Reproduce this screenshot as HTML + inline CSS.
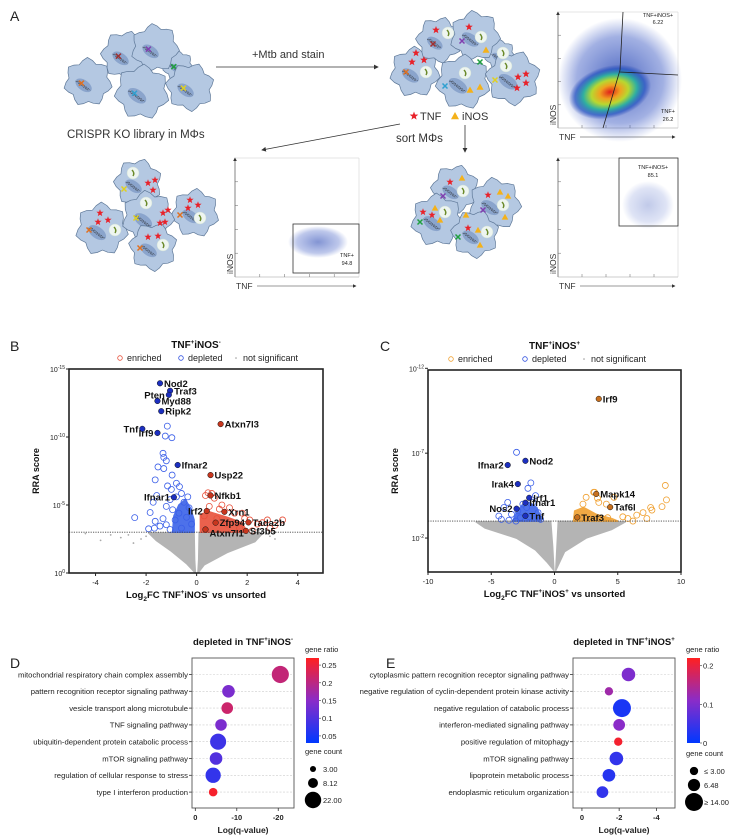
<!DOCTYPE html>
<html><head><meta charset="utf-8"><style>
html,body{margin:0;padding:0;background:#fff}
svg{display:block;font-family:"Liberation Sans",Arial,sans-serif}
</style></head><body>
<svg id="fig" width="747" height="840" viewBox="0 0 747 840" xmlns="http://www.w3.org/2000/svg">
<defs>
<radialGradient id="dens" cx="50%" cy="50%" r="50%">
<stop offset="0" stop-color="#e0201a"/><stop offset="0.25" stop-color="#f0a020"/><stop offset="0.45" stop-color="#b8d830"/><stop offset="0.65" stop-color="#30b0a0"/><stop offset="0.85" stop-color="#2050c0" stop-opacity="0.7"/><stop offset="1" stop-color="#2040b0" stop-opacity="0"/>
</radialGradient>
<radialGradient id="blueCloud" cx="50%" cy="50%" r="50%">
<stop offset="0" stop-color="#2040b0" stop-opacity="0.8"/><stop offset="0.7" stop-color="#3050c0" stop-opacity="0.45"/><stop offset="1" stop-color="#3050c0" stop-opacity="0"/>
</radialGradient>
<linearGradient id="cbar" x1="0" y1="1" x2="0" y2="0">
<stop offset="0" stop-color="#0038ff"/><stop offset="0.5" stop-color="#8a2cc8"/><stop offset="1" stop-color="#ff2020"/>
</linearGradient>
<marker id="arr" markerWidth="6" markerHeight="6" refX="5" refY="3" orient="auto"><path d="M0,0 L6,3 L0,6 z" fill="#333"/></marker>
</defs>
<g id="panelA"></g>
<g id="panelB"></g>
<g id="panelC"></g>
<g id="panelD"></g>
<g id="panelE"></g>
</svg>
<script>
// ---------- Panel B data ----------
const bLabelNames = ["Nod2","Traf3","Pten","Myd88","Ripk2","Tnf","Irf9","Ifnar2","Ifnar1"];
const bLabelX = [-1.45,-1.05,-1.1,-1.55,-1.4,-2.15,-1.55,-0.75,-0.9];
const bLabelY = [13.95,13.4,13.1,12.65,11.9,10.6,10.3,7.94,5.57];
const bLabelSide = ["r","r","l","r","r","l","l","r","l"];
const bEnrNames = ["Atxn7l3","Usp22","Nfkb1","Irf2","Xrn1","Zfp94","Tada2b","Sf3b5","Atxn7l1"];
const bEnrX = [0.95,0.55,0.55,0.4,1.1,0.75,2.05,1.95,0.35];
const bEnrY = [10.95,7.2,5.7,4.56,4.5,3.7,3.72,3.1,3.2];
const bEnrSide = ["r","r","r","l","r","r","r","r","rb"];
const bDepX = [-1.16,-1.24,-0.98,-1.33,-1.3,-1.2,-1.53,-1.3,-0.97,-1.64,-0.8,-0.68,-1.15,-1.0,-1.58,-1.72,-1.84,-2.45,-1.64,-1.9,-1.67,-1.45,-1.33,-1.2,-1.05,-0.8,-0.6,-0.95,-1.2,-1.05,-0.5,-0.3,-0.7,-0.4,-0.2,-0.6,-0.85,-0.35];
const bDepY = [10.8,10.07,9.95,8.8,8.5,8.25,7.8,7.68,7.2,6.85,6.6,6.35,6.4,6.15,5.7,5.2,4.45,4.07,3.8,3.25,3.3,3.45,4.0,4.9,5.4,5.6,5.85,4.65,3.55,3.2,5.2,4.8,4.4,4.1,3.6,3.3,3.9,5.6];
const bDepBlobX = [-0.95,-0.9,-0.7,-0.45,-0.25,-0.1,-0.1];
const bDepBlobY = [3.0,4.2,5.0,5.4,4.8,3.9,3.0];
const bEnrPtX = [0.45,0.6,0.7,0.35,0.9,1.0,1.3,1.5,1.8,2.1,2.4,2.6,2.9,3.4,3.1,2.2,1.7,1.2,0.5,1.9,2.8,0.3,0.8];
const bEnrPtY = [5.9,5.85,5.5,5.7,4.7,5.0,4.8,4.4,4.4,3.9,3.6,3.7,3.3,3.9,3.5,3.1,3.3,3.6,4.9,4.0,3.9,4.2,4.0];
const bEnrBlobX = [0.15,0.15,0.5,1.2,1.8,2.0];
const bEnrBlobY = [3.0,4.3,4.5,4.1,3.7,3.0];
const bGreyLX = [-0.05,-0.4,-1.0,-1.6,-1.9,-0.1,-0.08];
const bGreyLY = [0,0.7,1.6,2.4,2.95,2.95,1];
const bGreyRX = [0.05,0.3,1.2,2.3,2.6,0.1,0.08];
const bGreyRY = [0,0.6,1.5,2.3,2.9,2.95,1];
const bGreyPtX = [-4.4,-3.4,-3.0,-2.7,-2.2,-3.8,-2.5,-2.0,2.9,3.1];
const bGreyPtY = [2.9,2.8,2.6,2.8,2.5,2.4,2.2,2.7,2.7,2.5];
const bXTicks = [-4,-2,0,2,4];
const bYTicks = [15,10,5,0];
const bThreshold = 3;

// ---------- Panel C data ----------
const cDepNames = ["Nod2","Ifnar2","Irak4","Irf1","Ifnar1","Nos2","Tnf"];
const cDepLX = [-2.3,-3.7,-2.9,-2.0,-2.3,-3.0,-2.3];
const cDepLY = [6.55,6.3,5.18,4.37,4.08,3.73,3.31];
const cDepSide = ["r","l","l","r","r","l","r"];
const cEnrNames = ["Irf9","Mapk14","Taf6l","Traf3"];
const cEnrLX = [3.5,3.3,4.4,1.8];
const cEnrLY = [10.2,4.6,3.82,3.22];
const cDepX = [-3.0,-1.87,-2.1,-1.5,-3.7,-4.0,-4.4,-3.4,-2.9,-2.5,-2.2,-1.7,-3.05,-3.6,-2.0,-1.3,-2.7,-1.1,-4.2];
const cDepY = [7.05,5.25,4.93,4.5,4.1,3.8,3.3,3.4,3.6,4.0,3.8,4.1,3.0,3.05,3.25,3.5,3.2,3.1,3.1];
const cDepBlobX = [-3.3,-3.0,-2.5,-2.0,-1.4,-1.0,-1.1];
const cDepBlobY = [3.0,3.5,4.0,4.1,3.8,3.1,3.0];
const cEnrX = [3.17,4.7,8.76,8.85,8.5,7.6,7.7,7.0,6.5,5.8,6.2,5.4,4.1,3.5,2.5,2.25,7.3,4.2,3.4,3.1];
const cEnrY = [4.7,4.4,5.1,4.25,3.85,3.8,3.65,3.5,3.35,3.15,3.0,3.25,4.0,4.1,4.4,4.0,3.15,3.2,4.35,4.7];
const cEnrBlobX = [1.5,1.6,2.3,3.3,4.5,5.0];
const cEnrBlobY = [3.0,3.6,3.8,3.4,3.15,3.0];
const cGreyLX = [-0.05,-0.6,-1.5,-3,-5.5,-6.2,-3,-0.3,-0.15];
const cGreyLY = [0.1,0.6,1.3,2,2.6,2.95,2.98,2.98,1.5];
const cGreyRX = [0.1,0.8,2.5,4.5,5.6,2,0.3,0.2];
const cGreyRY = [0.1,1.2,2.0,2.5,2.95,2.98,2.98,1.5];
const cXTicks = [-10,-5,0,5,10];
const cYTicks = [12,7,2];
const cThreshold = 3;

// ---------- Panel D data ----------
const dTerms = ["mitochondrial respiratory chain complex assembly","pattern recognition receptor signaling pathway","vesicle transport along microtubule","TNF signaling pathway","ubiquitin-dependent protein catabolic process","mTOR signaling pathway","regulation of cellular response to stress","type I interferon production"];
const dLogQ = [-20.5,-8,-7.7,-6.2,-5.5,-5,-4.3,-4.3];
const dCount = [24,13,11,11,21,13,19,6];
const dRatio = [0.2,0.12,0.21,0.12,0.06,0.08,0.05,0.26];
const dXTicks = [0,-10,-20];
const dRatioTicks = [0.25,0.2,0.15,0.1,0.05];
const dCountLegend = [3.00,8.12,22.00];

// ---------- Panel E data ----------
const eTerms = ["cytoplasmic pattern recognition receptor signaling pathway","negative regulation of cyclin-dependent protein kinase activity","negative regulation of catabolic process","interferon-mediated signaling pathway","positive regulation of mitophagy","mTOR signaling pathway","lipoprotein metabolic process","endoplasmic reticulum organization"];
const eLogQ = [-2.5,-1.45,-2.15,-2.0,-1.95,-1.85,-1.45,-1.1];
const eCount = [8,3,14,6,3,8,7,6];
const eRatio = [0.1,0.13,0.02,0.11,0.21,0.04,0.03,0.04];
const eXTicks = [0,-2,-4];
const eRatioTicks = [0.2,0.1,0];
const eCountLegend = ["≤ 3.00","6.48","≥ 14.00"];
const eCountLegendVal = [3,6.48,14];

const NS="http://www.w3.org/2000/svg";
function mk(parent,tag,attrs,text){const e=document.createElementNS(NS,tag);for(const k in attrs)e.setAttribute(k,attrs[k]);if(text!==undefined)e.textContent=text;parent.appendChild(e);return e;}

// ================= PANEL A =================
(function(){
const g=document.getElementById('panelA');
let t=mk(g,'text',{x:10,y:21,'font-size':14,fill:'#222'},'A');


function cell(par,cx,cy,r,rot){
  let d='';const n=7;
  for(let i=0;i<=n*4;i++){const a=rot+i*Math.PI*2/(n*4);const rr=r*(1+0.12*Math.cos(i*Math.PI/2));d+=(i?'L':'M')+(cx+rr*Math.cos(a)).toFixed(1)+','+(cy+rr*Math.sin(a)).toFixed(1);}
  const p=mk(par,'path',{d:d+'Z',fill:'#b4c8e2',stroke:'#5e7898','stroke-width':0.7,'stroke-linejoin':'round'});
  
  
  mk(par,'ellipse',{cx:cx-r*0.2,cy:cy+r*0.15,rx:r*0.42,ry:r*0.24,fill:'#8aa4cc',transform:`rotate(35 ${cx-r*0.2} ${cy+r*0.15})`});
  for(let k=-1;k<=1;k++)mk(par,'line',{x1:cx-r*0.5+k*1.5,y1:cy-r*0.05,x2:cx+r*0.05+k*1.5,y2:cy+r*0.38,stroke:'#222','stroke-width':0.5,'stroke-dasharray':'2 1'});
}
function xmark(par,x,y,c){mk(par,'path',{d:`M${x-2.5},${y-2.5}L${x+2.5},${y+2.5}M${x+2.5},${y-2.5}L${x-2.5},${y+2.5}`,stroke:c,'stroke-width':1.5});}
function bact(par,x,y){mk(par,'circle',{cx:x,cy:y,r:6,fill:'#eef5f0',stroke:'#cfe0d8','stroke-width':0.5});mk(par,'path',{d:`M${x-1},${y-3}Q${x+2},${y} ${x},${y+3}`,stroke:'#6b8a2a','stroke-width':1.5,fill:'none'});}
function star(par,x,y,s){let d='';for(let i=0;i<10;i++){const a=-Math.PI/2+i*Math.PI/5;const r=i%2?s*0.42:s;d+=(i?'L':'M')+(x+r*Math.cos(a)).toFixed(1)+','+(y+r*Math.sin(a)).toFixed(1);}const p=mk(par,'path',{d:d+'Z',fill:'#e8222a'});}
function tri(par,x,y,s){const p=mk(par,'path',{d:`M${x},${y-s}L${x+s},${y+s*0.8}L${x-s},${y+s*0.8}Z`,fill:'#f4b11a'});}
// cluster 1
const c1=mk(g,'g',{});
[[88,82,22,0.2,'#e07020'],[125,55,22,0.5,'#a03030'],[178,66,14,0.2,'#20a040'],[155,48,22,0.1,'#8040b0'],[142,92,25,0.3,'#30a0d0'],[190,87,22,0.6,'#e0d020']].forEach(c=>{cell(c1,c[0],c[1],c[2],c[3]);xmark(c1,c[0]-c[2]*0.3,c[1]+c[2]*0.05,c[4]);});
t=mk(g,'text',{x:67,y:138,'font-size':11.5,fill:'#333'},'CRISPR KO library in MΦs');

mk(g,'line',{x1:216,y1:67,x2:378,y2:67,stroke:'#333','stroke-width':0.8,'marker-end':'url(#arr)'});
t=mk(g,'text',{x:252,y:58,'font-size':11,fill:'#333'},'+Mtb and stain');

// cluster 2
const c2=mk(g,'g',{});
[[415,72,23,0.2],[439,40,21,0.5],[500,55,14,0.2],[475,36,23,0.1],[463,82,25,0.3],[513,78,25,0.6]].forEach(c=>{cell(c2,c[0],c[1],c[2],c[3]);});
[[448,33],[481,37],[426,72],[465,73],[506,66],[503,53]].forEach(b=>bact(c2,b[0],b[1]));
[[436,30],[469,27],[416,53],[412,62],[424,60],[518,77],[526,74],[517,88],[526,83]].forEach(s=>star(c2,s[0],s[1],4));
[[486,50],[470,90],[480,87]].forEach(s=>tri(c2,s[0],s[1],3.5));
xmark(c2,406,72,'#e07020');xmark(c2,433,44,'#a03030');xmark(c2,462,41,'#8040b0');xmark(c2,480,62,'#20a040');xmark(c2,495,80,'#e0d020');xmark(c2,445,86,'#30a0d0');
star(g,414,116,4.5);
t=mk(g,'text',{x:420,y:120,'font-size':11,fill:'#333'},'TNF');
tri(g,455,116,4);
t=mk(g,'text',{x:462,y:120,'font-size':11,fill:'#333'},'iNOS');
t=mk(g,'text',{x:396,y:142,'font-size':11.5,fill:'#333'},'sort MΦs');
mk(g,'line',{x1:400,y1:124,x2:262,y2:150,stroke:'#333','stroke-width':0.8,'marker-end':'url(#arr)'});
mk(g,'line',{x1:465,y1:125,x2:465,y2:152,stroke:'#333','stroke-width':0.8,'marker-end':'url(#arr)'});
// bottom left cells
const c3=mk(g,'g',{});
[[102,229,24,0.2],[138,183,22,0.5],[195,213,22,0.3],[148,217,24,0.1],[153,247,22,0.6]].forEach(c=>{cell(c3,c[0],c[1],c[2],c[3]);});
[[133,173],[146,203],[115,230],[200,218],[163,245]].forEach(b=>bact(c3,b[0],b[1]));
[[148,183],[155,180],[153,190],[100,213],[98,222],[108,220],[163,213],[168,210],[160,223],[165,222],[190,200],[198,205],[188,208],[148,237],[158,236]].forEach(s=>star(c3,s[0],s[1],3.8));
xmark(c3,124,189,'#e0d020');xmark(c3,136,218,'#e0d020');xmark(c3,89,230,'#e07020');xmark(c3,140,248,'#e07020');xmark(c3,180,215,'#e07020');
// bottom middle cells
const c4=mk(g,'g',{});
[[455,189,22,0.5],[437,220,24,0.2],[495,204,24,0.1],[475,234,22,0.6]].forEach(c=>{cell(c4,c[0],c[1],c[2],c[3]);});
[[463,191],[445,212],[503,205],[487,232]].forEach(b=>bact(c4,b[0],b[1]));
[[450,182],[488,195],[423,212],[432,215],[468,228]].forEach(s=>star(c4,s[0],s[1],3.8));
[[462,178],[500,192],[508,196],[435,208],[440,220],[505,217],[478,230],[480,245],[466,215]].forEach(s=>tri(c4,s[0],s[1],3.3));
xmark(c4,443,196,'#8040b0');xmark(c4,420,222,'#20a040');xmark(c4,483,210,'#8040b0');xmark(c4,458,237,'#20a040');
// flow plots
function flow(x0,y0,x1,y1,name){
  const f=mk(g,'g',{});
  mk(f,'line',{x1:x0,y1:y1,x2:x0,y2:y0,stroke:'#333','stroke-width':0.6,'marker-end':'url(#arr)'});
  mk(f,'line',{x1:x0,y1:y1,x2:x1,y2:y1,stroke:'#999','stroke-width':0.5});
  mk(f,'line',{x1:x0,y1:y0,x2:x1,y2:y0,stroke:'#ccc','stroke-width':0.5});
  mk(f,'line',{x1:x1,y1:y0,x2:x1,y2:y1,stroke:'#ccc','stroke-width':0.5});
  for(let i=1;i<5;i++){mk(f,'line',{x1:x0+i*(x1-x0)/5,y1:y1,x2:x0+i*(x1-x0)/5,y2:y1-3,stroke:'#666','stroke-width':0.5});mk(f,'line',{x1:x0,y1:y1-i*(y1-y0)/5,x2:x0+3,y2:y1-i*(y1-y0)/5,stroke:'#666','stroke-width':0.5});}
  mk(f,'text',{x:x0+1,y:y1+12,'font-size':8.5,fill:'#333'},'TNF');
  mk(f,'line',{x1:x0+22,y1:y1+9,x2:x1-3,y2:y1+9,stroke:'#333','stroke-width':0.6,'marker-end':'url(#arr)'});
  mk(f,'text',{x:x0-2,y:y1-3,'font-size':8.5,fill:'#333',transform:`rotate(-90 ${x0-2} ${y1-3})`},'iNOS');
  return f;
}
let f1=flow(558,12,678,128,'flow-plot-unsorted');
mk(f1,'ellipse',{cx:620,cy:80,rx:62,ry:62,fill:'url(#blueCloud)'});
mk(f1,'ellipse',{cx:610,cy:92,rx:42,ry:26,fill:'url(#dens)',transform:'rotate(-15 610 92)'});
mk(f1,'path',{d:'M623,12L620,70L603,128M620,72L678,75',stroke:'#222','stroke-width':0.8,fill:'none'});
mk(f1,'text',{x:658,y:17,'font-size':5.5,fill:'#222','text-anchor':'middle'},'TNF+iNOS+');
mk(f1,'text',{x:658,y:24,'font-size':5.5,fill:'#222','text-anchor':'middle'},'6.22');
mk(f1,'text',{x:668,y:113,'font-size':5.5,fill:'#222','text-anchor':'middle'},'TNF+');
mk(f1,'text',{x:668,y:121,'font-size':5.5,fill:'#222','text-anchor':'middle'},'26.2');
let f2=flow(235,158,359,277,'flow-plot-tnf-sorted');
mk(f2,'ellipse',{cx:318,cy:242,rx:30,ry:16,fill:'url(#blueCloud)',opacity:0.7});
mk(f2,'rect',{x:293,y:224,width:66,height:49,fill:'none',stroke:'#333','stroke-width':0.8});
mk(f2,'text',{x:347,y:257,'font-size':5.5,fill:'#222','text-anchor':'middle'},'TNF+');
mk(f2,'text',{x:347,y:265,'font-size':5.5,fill:'#222','text-anchor':'middle'},'94.8');
let f3=flow(558,158,678,277,'flow-plot-tnf-inos-sorted');
mk(f3,'ellipse',{cx:648,cy:205,rx:26,ry:24,fill:'url(#blueCloud)',opacity:0.35});
mk(f3,'rect',{x:619,y:158,width:59,height:68,fill:'none',stroke:'#333','stroke-width':0.8});
mk(f3,'text',{x:653,y:169,'font-size':5.5,fill:'#222','text-anchor':'middle'},'TNF+iNOS+');
mk(f3,'text',{x:653,y:177,'font-size':5.5,fill:'#222','text-anchor':'middle'},'85.1');
})();

// ================= VOLCANO helper =================
function volcano(cfg){
  const g=document.getElementById(cfg.id);
  const X=v=>cfg.px0+(v-cfg.xmin)/(cfg.xmax-cfg.xmin)*(cfg.px1-cfg.px0);
  const Y=v=>cfg.py1-(v-cfg.ymin)/(cfg.ymax-cfg.ymin)*(cfg.py1-cfg.py0);
  let t=mk(g,'text',{x:cfg.letterX,y:cfg.letterY,'font-size':14,fill:'#222'},cfg.letter);
  
  t=mk(g,'text',{x:(cfg.px0+cfg.px1)/2,y:cfg.py0-21,'font-size':10,'font-weight':'bold','text-anchor':'middle',fill:'#111'});
  t.innerHTML=cfg.titleHTML;
  
  const lg=mk(g,'g',{});
  let e=mk(lg,'circle',{cx:cfg.leg[0],cy:cfg.py0-11,r:2.3,fill:'none',stroke:cfg.enrColor,'stroke-width':0.8});
  
  mk(lg,'text',{x:cfg.leg[0]+7,y:cfg.py0-8,'font-size':9,fill:'#222'},'enriched');
  e=mk(lg,'circle',{cx:cfg.leg[1],cy:cfg.py0-11,r:2.3,fill:'none',stroke:'#3050e0','stroke-width':0.8});
  
  mk(lg,'text',{x:cfg.leg[1]+7,y:cfg.py0-8,'font-size':9,fill:'#222'},'depleted');
  e=mk(lg,'circle',{cx:cfg.leg[2],cy:cfg.py0-11,r:0.8,fill:'#999'});
  
  mk(lg,'text',{x:cfg.leg[2]+7,y:cfg.py0-8,'font-size':9,fill:'#222'},'not significant');
  [[cfg.gLX,cfg.gLY],[cfg.gRX,cfg.gRY]].forEach(([xs,ys])=>{
    const p=mk(g,'polygon',{points:xs.map((v,i)=>X(v).toFixed(1)+','+Y(ys[i]).toFixed(1)).join(' '),fill:'#b4b4b4',stroke:'#b4b4b4','stroke-width':1.5,'stroke-linejoin':'round'});
    
  });
  (cfg.gPX||[]).forEach((v,i)=>{const c=mk(g,'circle',{cx:X(v),cy:Y(cfg.gPY[i]),r:0.9,fill:'#aaa'});});
  [[cfg.dBX,cfg.dBY,'#3a62e8'],[cfg.eBX,cfg.eBY,cfg.enrColor]].forEach(([xs,ys,col])=>{
    const p=mk(g,'polygon',{points:xs.map((v,i)=>X(v).toFixed(1)+','+Y(ys[i]).toFixed(1)).join(' '),fill:col,stroke:col,'stroke-width':1.5,'stroke-linejoin':'round',opacity:0.9});
    
  });
  cfg.dX.forEach((v,i)=>{const c=mk(g,'circle',{cx:X(v),cy:Y(cfg.dY[i]),r:3,fill:'none',stroke:'#3a5ee8','stroke-width':0.8});});
  cfg.eX.forEach((v,i)=>{const c=mk(g,'circle',{cx:X(v),cy:Y(cfg.eY[i]),r:3,fill:'none',stroke:cfg.enrColor,'stroke-width':0.8});});
  const th=mk(g,'line',{x1:cfg.px0,x2:cfg.px1,y1:Y(cfg.th),y2:Y(cfg.th),stroke:'#444','stroke-width':0.9,'stroke-dasharray':'1.2 1.2'});
  
  function lab(names,xs,ys,sides,fill){names.forEach((n,i)=>{
    const cx=X(xs[i]),cy=Y(ys[i]);
    const c=mk(g,'circle',{cx:cx,cy:cy,r:2.8,fill:fill,stroke:'#111','stroke-width':0.5});
    
    const s=sides[i];let tx=cx+4,anchor='start',ty=cy+3.5;
    if(s==='l'){tx=cx-4;anchor='end';}
    if(s==='rb'){ty=cy+7;}
    const tt=mk(g,'text',{x:tx,y:ty,'font-size':9.5,'font-weight':'bold','text-anchor':anchor,fill:'#111'},n);
    
  });}
  lab(cfg.dlN,cfg.dlX,cfg.dlY,cfg.dlS,'#1c2fc0');
  lab(cfg.elN,cfg.elX,cfg.elY,cfg.elS,cfg.enrFill);
  const fr=mk(g,'rect',{x:cfg.px0,y:cfg.py0,width:cfg.px1-cfg.px0,height:cfg.py1-cfg.py0,fill:'none',stroke:'#222','stroke-width':1.6});
  
  cfg.xt.forEach(v=>{mk(g,'line',{x1:X(v),x2:X(v),y1:cfg.py1,y2:cfg.py1+3,stroke:'#222','stroke-width':1});
    const tt=mk(g,'text',{x:X(v),y:cfg.py1+12,'font-size':7.5,'text-anchor':'middle',fill:'#222'},String(v));});
  cfg.yt.forEach(v=>{mk(g,'line',{x1:cfg.px0-3,x2:cfg.px0,y1:Y(v),y2:Y(v),stroke:'#222','stroke-width':1});
    const tt=mk(g,'text',{x:cfg.px0-4,y:Y(v)+3,'font-size':7,'text-anchor':'end',fill:'#222'});
    tt.innerHTML='10<tspan dy="-3" font-size="5">'+(v===0?'0':'-'+v)+'</tspan>';
    });
  t=mk(g,'text',{x:cfg.px0-30,y:(cfg.py0+cfg.py1)/2,'font-size':9,'font-weight':'bold','text-anchor':'middle',fill:'#111',transform:`rotate(-90 ${cfg.px0-30} ${(cfg.py0+cfg.py1)/2})`},'RRA score');
  
  t=mk(g,'text',{x:(cfg.px0+cfg.px1)/2,y:cfg.py1+25,'font-size':9.5,'font-weight':'bold','text-anchor':'middle',fill:'#111'});
  t.innerHTML=cfg.xTitleHTML;
  
}
volcano({id:'panelB',letter:'B',letterX:10,letterY:351,px0:69,px1:323,py0:369,py1:573,xmin:-5.05,xmax:5.0,ymin:0,ymax:15,
  titleHTML:'TNF<tspan dy="-4" font-size="6">+</tspan><tspan dy="4">iNOS</tspan><tspan dy="-4" font-size="6">-</tspan>',
  xTitleHTML:'Log<tspan dy="3" font-size="6.5">2</tspan><tspan dy="-3">FC TNF</tspan><tspan dy="-4" font-size="6">+</tspan><tspan dy="4">iNOS</tspan><tspan dy="-4" font-size="6">-</tspan><tspan dy="4"> vs unsorted</tspan>',
  leg:[120,181,236],enrColor:'#e8503a',enrFill:'#c8361e',
  gLX:bGreyLX,gLY:bGreyLY,gRX:bGreyRX,gRY:bGreyRY,gPX:bGreyPtX,gPY:bGreyPtY,
  dBX:bDepBlobX,dBY:bDepBlobY,eBX:bEnrBlobX,eBY:bEnrBlobY,dX:bDepX,dY:bDepY,eX:bEnrPtX,eY:bEnrPtY,th:bThreshold,
  dlN:bLabelNames,dlX:bLabelX,dlY:bLabelY,dlS:bLabelSide,elN:bEnrNames,elX:bEnrX,elY:bEnrY,elS:bEnrSide,xt:bXTicks,yt:bYTicks});
volcano({id:'panelC',letter:'C',letterX:380,letterY:351,px0:428,px1:681,py0:370,py1:572,xmin:-10,xmax:10,ymin:0,ymax:11.9,
  titleHTML:'TNF<tspan dy="-4" font-size="6">+</tspan><tspan dy="4">iNOS</tspan><tspan dy="-4" font-size="6">+</tspan>',
  xTitleHTML:'Log<tspan dy="3" font-size="6.5">2</tspan><tspan dy="-3">FC TNF</tspan><tspan dy="-4" font-size="6">+</tspan><tspan dy="4">iNOS</tspan><tspan dy="-4" font-size="6">+</tspan><tspan dy="4"> vs unsorted</tspan>',
  leg:[451,525,584],enrColor:'#f0a030',enrFill:'#c8701e',
  gLX:cGreyLX,gLY:cGreyLY,gRX:cGreyRX,gRY:cGreyRY,gPX:[],gPY:[],
  dBX:cDepBlobX,dBY:cDepBlobY,eBX:cEnrBlobX,eBY:cEnrBlobY,dX:cDepX,dY:cDepY,eX:cEnrX,eY:cEnrY,th:cThreshold,
  dlN:cDepNames,dlX:cDepLX,dlY:cDepLY,dlS:cDepSide,elN:cEnrNames,elX:cEnrLX,elY:cEnrLY,elS:["r","r","r","r"],xt:cXTicks,yt:cYTicks});

// ================= DOT PLOT helper =================
function colorFor(t){t=Math.max(0,Math.min(1,t));const a=[0,56,255],b=[138,44,200],c=[255,32,32];let p,q,u;if(t<0.5){p=a;q=b;u=t*2;}else{p=b;q=c;u=(t-0.5)*2;}return `rgb(${p.map((v,i)=>Math.round(v+(q[i]-v)*u)).join(',')})`;}
function dotplot(cfg){
  const g=document.getElementById(cfg.id);
  const X=v=>cfg.px0+(cfg.xmin-v)/(cfg.xmin-cfg.xmax)*(cfg.px1-cfg.px0);
  const rowY=i=>cfg.row0+i*cfg.rowStep;
  let t=mk(g,'text',{x:cfg.letterX,y:668,'font-size':14,fill:'#222'},cfg.letter);
  
  t=mk(g,'text',{x:(cfg.px0+cfg.px1)/2,y:645,'font-size':9.5,'font-weight':'bold','text-anchor':'middle',fill:'#111'});
  t.innerHTML=cfg.titleHTML;
  cfg.terms.forEach((n,i)=>{
    const y=rowY(i);
    const l=mk(g,'line',{x1:cfg.px0,x2:cfg.px1,y1:y,y2:y,stroke:'#ccc','stroke-width':0.6,'stroke-dasharray':'2 1.5'});
    
    mk(g,'line',{x1:cfg.px0-3,x2:cfg.px0,y1:y,y2:y,stroke:'#333','stroke-width':0.8});
    const tt=mk(g,'text',{x:cfg.px0-4,y:y+2.8,'font-size':7.7,'text-anchor':'end',fill:'#222'},n);
    
  });
  cfg.terms.forEach((n,i)=>{
    const c=mk(g,'circle',{cx:X(cfg.vals[i]),cy:rowY(i),r:cfg.rad(cfg.counts[i]),fill:colorFor(cfg.ratios[i]/cfg.rmax)});
    
  });
  const fr=mk(g,'rect',{x:cfg.px0,y:cfg.py0,width:cfg.px1-cfg.px0,height:cfg.py1-cfg.py0,fill:'none',stroke:'#555','stroke-width':0.9});
  
  cfg.xt.forEach(v=>{mk(g,'line',{x1:X(v),x2:X(v),y1:cfg.py1,y2:cfg.py1+3,stroke:'#333','stroke-width':0.8});
    const tt=mk(g,'text',{x:X(v),y:cfg.py1+12,'font-size':7.5,'font-weight':'bold','text-anchor':'middle',fill:'#222'},String(v));});
  t=mk(g,'text',{x:(cfg.px0+cfg.px1)/2,y:cfg.py1+25,'font-size':8.5,'font-weight':'bold','text-anchor':'middle',fill:'#222'},'Log(q-value)');
  
  t=mk(g,'text',{x:cfg.cbx-1,y:652,'font-size':7.5,fill:'#222'},'gene ratio');
  const cb=mk(g,'rect',{x:cfg.cbx,y:cfg.cby0,width:13,height:cfg.cby1-cfg.cby0,fill:'url(#cbar)'});
  
  const CY=v=>cfg.cby1-(v-cfg.rmin)/(cfg.rmax-cfg.rmin)*(cfg.cby1-cfg.cby0);
  cfg.rt.forEach(v=>{mk(g,'line',{x1:cfg.cbx+13,x2:cfg.cbx+15,y1:CY(v),y2:CY(v),stroke:'#333','stroke-width':0.6});
    const tt=mk(g,'text',{x:cfg.cbx+16,y:CY(v)+3,'font-size':7.5,fill:'#222'},String(v));});
  t=mk(g,'text',{x:cfg.cbx-1,y:cfg.gcY,'font-size':7.5,fill:'#222'},'gene count');
  cfg.cl.forEach((v,i)=>{const y=cfg.gcY+15+[0,14,31][i];
    const c=mk(g,'circle',{cx:cfg.cbx+7,cy:y,r:cfg.rad(cfg.clv[i]),fill:'#000'});
    const tt=mk(g,'text',{x:cfg.cbx+17,y:y+3,'font-size':7.5,fill:'#222'},v);});
}
dotplot({id:'panelD',letter:'D',letterX:10,px0:192,px1:294,py0:658,py1:808,xmin:0.8,xmax:-23.8,row0:674.5,rowStep:16.8,
  titleHTML:'depleted in TNF<tspan dy="-4" font-size="6">+</tspan><tspan dy="4">iNOS</tspan><tspan dy="-4" font-size="6">-</tspan>',
  terms:dTerms,vals:dLogQ,counts:dCount,ratios:dRatio,rmin:0.03,rmax:0.27,xt:dXTicks,rt:dRatioTicks,
  rad:c=>1.75*Math.sqrt(c),cbx:306,cby0:658,cby1:743,gcY:754,cl:dCountLegend.map(v=>v.toFixed(2)),clv:dCountLegend});
dotplot({id:'panelE',letter:'E',letterX:386,px0:573,px1:675,py0:658,py1:808,xmin:0.48,xmax:-5.0,row0:674.5,rowStep:16.8,
  titleHTML:'depleted in TNF<tspan dy="-4" font-size="6">+</tspan><tspan dy="4">iNOS</tspan><tspan dy="-4" font-size="6">+</tspan>',
  terms:eTerms,vals:eLogQ,counts:eCount,ratios:eRatio,rmin:0,rmax:0.22,xt:eXTicks,rt:eRatioTicks,
  rad:c=>2.4*Math.sqrt(c),cbx:687,cby0:658,cby1:743,gcY:756,cl:eCountLegend,clv:eCountLegendVal});
</script>
</body></html>
